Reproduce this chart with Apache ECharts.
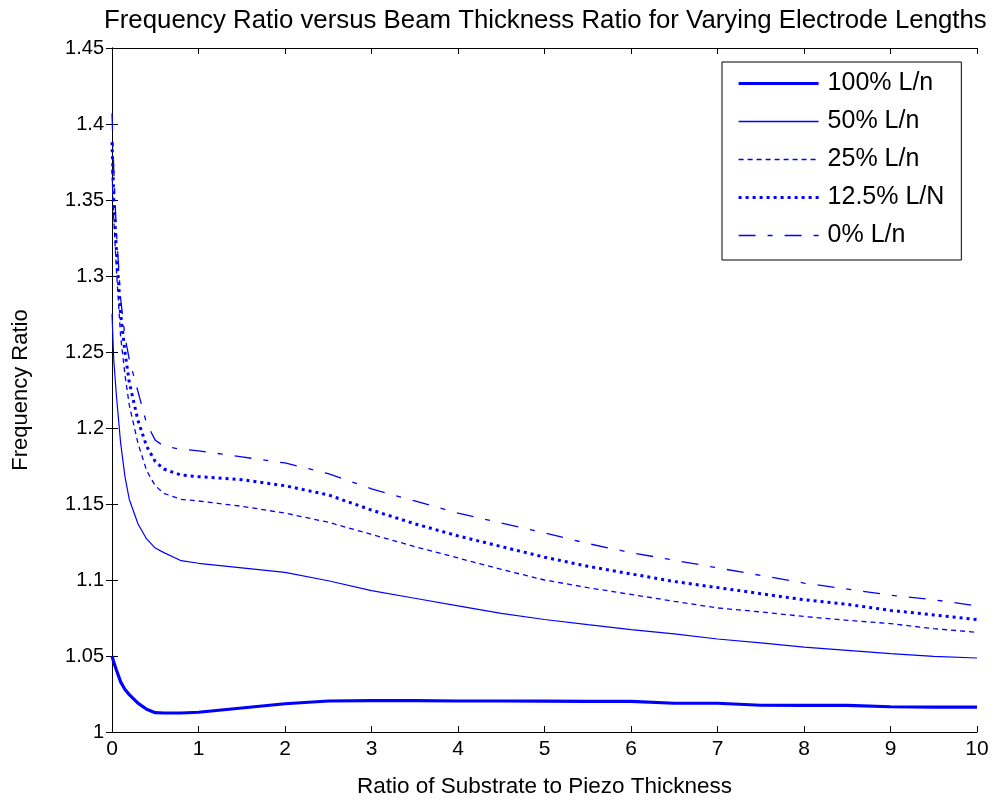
<!DOCTYPE html>
<html>
<head>
<meta charset="utf-8">
<script src="https://cdn.jsdelivr.net/npm/echarts@6/dist/echarts.min.js"></script>
<style>
html,body{margin:0;padding:0;background:#fff;}
#chart{width:995px;height:803px;}
</style>
</head>
<body>
<div id="chart"></div>
<script>
var xs = [0, 0.02, 0.05, 0.1, 0.15, 0.2, 0.3, 0.4, 0.5, 0.6, 0.8, 1, 1.5, 2, 2.5, 3, 3.5, 4, 4.5, 5, 5.5, 6, 6.5, 7, 7.5, 8, 8.5, 9, 9.5, 10];
var p100 = [1.050,1.046,1.041,1.033,1.028,1.0246,1.019,1.015,1.0127,1.0125,1.0125,1.013,1.0158,1.0186,1.0204,1.0206,1.0206,1.0204,1.0204,1.0203,1.0202,1.0201,1.0189,1.0189,1.0176,1.0175,1.0175,1.0166,1.0164,1.0164];
var p50 = [1.275,1.245,1.222,1.190,1.168,1.153,1.137,1.127,1.121,1.118,1.1127,1.111,1.108,1.105,1.0995,1.093,1.088,1.083,1.078,1.074,1.0706,1.0673,1.0645,1.0612,1.0586,1.0559,1.0537,1.0515,1.0498,1.0487];
var p25 = [1.370,1.338,1.305,1.260,1.235,1.215,1.190,1.172,1.162,1.157,1.153,1.152,1.1485,1.144,1.138,1.130,1.122,1.1145,1.107,1.100,1.095,1.0905,1.086,1.0816,1.079,1.076,1.0735,1.0713,1.068,1.0656];
var p12 = [1.388,1.352,1.318,1.275,1.250,1.230,1.205,1.188,1.178,1.173,1.169,1.168,1.166,1.162,1.156,1.146,1.137,1.129,1.122,1.115,1.109,1.104,1.099,1.095,1.091,1.087,1.084,1.080,1.077,1.074];
var p0 = [1.407,1.370,1.330,1.285,1.260,1.245,1.224,1.203,1.192,1.188,1.186,1.185,1.181,1.177,1.170,1.160,1.152,1.144,1.1375,1.131,1.124,1.118,1.113,1.108,1.103,1.098,1.094,1.090,1.087,1.083];
var names = ['100% L/n', '50% L/n', '25% L/n', '12.5% L/N', '0% L/n'];
var titleText = 'Frequency Ratio versus Beam Thickness Ratio for Varying Electrode Lengths';
var xName = 'Ratio of Substrate to Piezo Thickness';
var yName = 'Frequency Ratio';

function pairs(v){ return xs.map(function(x,i){ return [x, v[i]]; }); }

var FONT = 'Liberation Sans, Arial, sans-serif';
var BLUE = '#0000ff';
var widths = [3.2, 1.2, 1.3, 3, 1.3];
var legendWidths = [3.2, 1.5, 1.5, 3, 1.5];
var dashes = ['solid', 'solid', [5,4], [3,4], [17,12,5,12]];
var chart = echarts.init(document.getElementById('chart'), null, {renderer:'canvas'});

var axisCommon = {
  axisLine:{show:true, lineStyle:{color:'#000', width:1}},
  axisTick:{show:true, inside:true, length:6, lineStyle:{color:'#000'}},
  splitLine:{show:false}
};

function mkSeries(i, data){
  return {
    name:names[i], type:'line', data:pairs(data), xAxisIndex:0, yAxisIndex:0,
    symbol:'none', showSymbol:false, smooth:false, animation:false,
    color:BLUE,
    lineStyle:{color:BLUE, width:widths[i], type:dashes[i]},
    itemStyle:{color:BLUE}
  };
}

chart.setOption({
  backgroundColor:'#fff',
  animation:false,
  color:[BLUE, BLUE, BLUE, BLUE, BLUE],
  title:{text:titleText, left:99, top:3,
    textStyle:{fontFamily:FONT, fontSize:25.8, fontWeight:'normal', color:'#000'}},
  grid:{left:112, right:18, top:48, bottom:71, containLabel:false},
  legend:{
    orient:'vertical', left:722, top:62,
    padding:[9,17,12,15], itemWidth:80, itemHeight:14, itemGap:13,
    borderColor:'#000', borderWidth:1, backgroundColor:'#fff',
    itemStyle:{opacity:0},
    textStyle:{fontFamily:FONT, fontSize:25, color:'#000', padding:[0,0,0,4]},
    data:names.map(function(n,i){
      return {name:n, itemStyle:{opacity:0},
        lineStyle:{color:BLUE, opacity:1, width:legendWidths[i], type:dashes[i]}};
    })
  },
  xAxis:[
    Object.assign({type:'value', min:0, max:10, interval:1, position:'bottom',
      name:xName, nameLocation:'middle', nameGap:43,
      nameTextStyle:{fontFamily:FONT, fontSize:22.5, color:'#000'},
      axisLabel:{fontFamily:FONT, fontSize:21, color:'#000', margin:7}}, axisCommon),
    Object.assign({type:'value', min:0, max:10, interval:1, position:'top',
      axisLabel:{show:false}}, axisCommon)
  ],
  yAxis:[
    Object.assign({type:'value', min:1, max:1.45, interval:0.05, position:'left',
      name:yName, nameLocation:'middle', nameGap:80, nameRotate:90,
      nameTextStyle:{fontFamily:FONT, fontSize:22, color:'#000'},
      axisLabel:{fontFamily:FONT, fontSize:20, color:'#000', margin:8}}, axisCommon),
    Object.assign({type:'value', min:1, max:1.45, interval:0.05, position:'right',
      axisLabel:{show:false}}, axisCommon)
  ],
  series:[
    mkSeries(0, p100),
    mkSeries(1, p50),
    mkSeries(2, p25),
    mkSeries(3, p12),
    mkSeries(4, p0)
  ]
});
</script>
</body>
</html>
